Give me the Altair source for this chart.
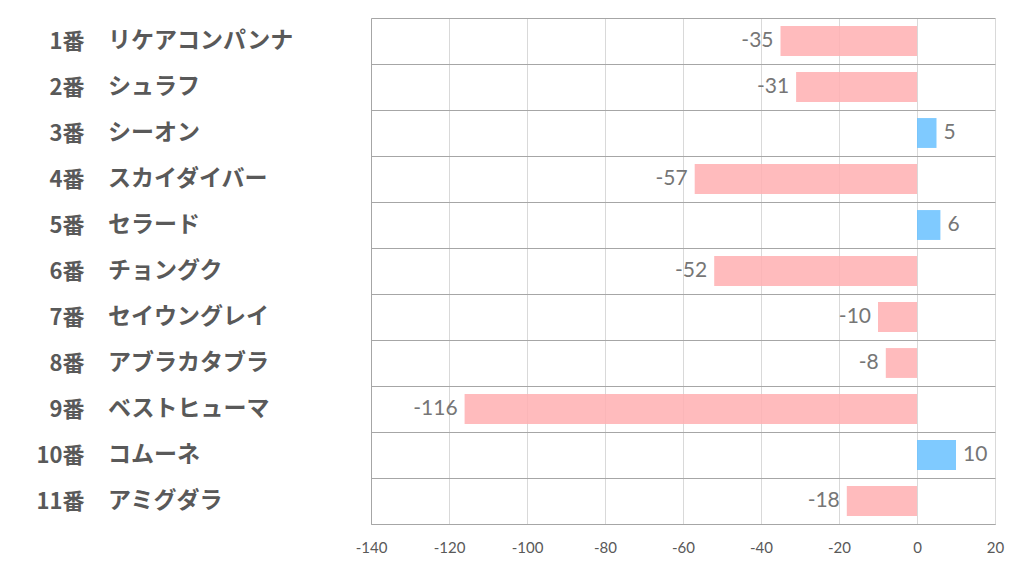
import altair as alt
import pandas as pd

nums = ["1番", "2番", "3番", "4番", "5番", "6番", "7番", "8番", "9番", "10番", "11番"]
names = ["リケアコンパンナ", "シュラフ", "シーオン", "スカイダイバー", "セラード", "チョングク",
         "セイウングレイ", "アブラカタブラ", "ベストヒューマ", "コムーネ", "アミグダラ"]
values = [-35, -31, 5, -57, 6, -52, -10, -8, -116, 10, -18]
x_ticks = [-140, -120, -100, -80, -60, -40, -20, 0, 20]

df = pd.DataFrame({"num": nums, "name": names, "value": values})

JP = "Noto Sans CJK JP"
LAT = "Lato"
ycat = alt.Y("num:N", sort=nums, title=None,
             scale=alt.Scale(paddingInner=0, paddingOuter=0),
             axis=alt.Axis(labelAlign="right", labelPadding=287, labelFont=JP,
                           labelFontWeight="bold", labelFontSize=22, labelColor="#595959",
                           ticks=False, domain=True, domainColor="#A6A6A6",
                           grid=True, gridColor="#A6A6A6", tickBand="extent"))
xq = alt.X("value:Q", title=None,
           scale=alt.Scale(domain=[-140, 20], nice=False, zero=False),
           axis=alt.Axis(values=x_ticks, grid=True, gridColor="#D9D9D9", ticks=False,
                         domain=True, domainColor="#A6A6A6", labelFont=LAT,
                         labelFontSize=15, labelColor="#595959", labelPadding=16,
                         labelFlush=False, labelOverlap=False,
                         labelExpr="toString(datum.value)"))

base = alt.Chart(df).transform_calculate(lbl="toString(datum.value)")

bars = base.mark_bar(opacity=0.85, height={"band": 0.65}).encode(
    y=ycat, x=xq, x2=alt.datum(0),
    color=alt.condition(alt.datum.value < 0, alt.value("#FFAFB2"), alt.value("#68C1FF")),
)

name_text = base.mark_text(align="left", baseline="middle", font=JP, fontWeight="bold",
                           fontSize=23, color="#595959").encode(
    y=alt.Y("num:N", sort=nums), x=alt.value(-263), text="name:N")

neg_lbl = base.transform_filter(alt.datum.value < 0).mark_text(
    align="right", baseline="middle", dx=-7, font=LAT, fontSize=21, color="#767676").encode(
    y=alt.Y("num:N", sort=nums), x="value:Q", text="lbl:N")
pos_lbl = base.transform_filter(alt.datum.value >= 0).mark_text(
    align="left", baseline="middle", dx=7, font=LAT, fontSize=21, color="#767676").encode(
    y=alt.Y("num:N", sort=nums), x="value:Q", text="lbl:N")

chart = alt.layer(bars, name_text, neg_lbl, pos_lbl).properties(
    width=624, height=506,
    autosize=alt.AutoSizeParams(type="none"),
    padding={"left": 363, "top": 10, "right": 19, "bottom": 42},
    background="white",
).configure_view(stroke=None)

chart.save("out.html", embed_options={"renderer": "svg", "actions": False})
